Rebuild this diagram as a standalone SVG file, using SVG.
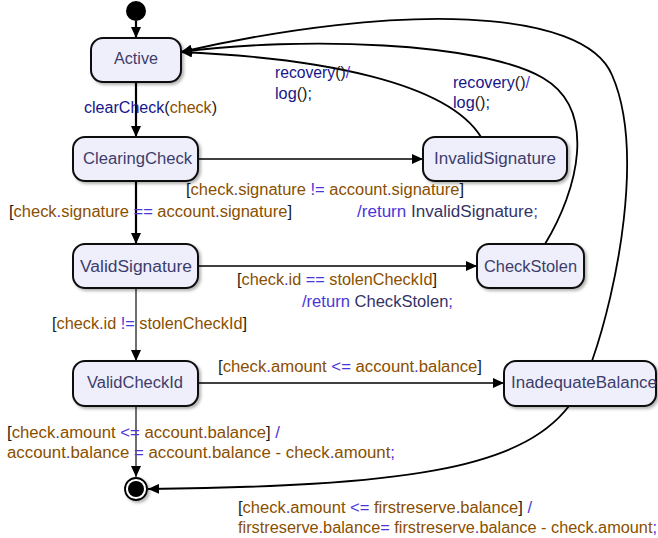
<svg xmlns="http://www.w3.org/2000/svg" width="658" height="538" viewBox="0 0 658 538">
<style>
text{font-family:"Liberation Sans",Arial,sans-serif;}
.node rect{fill:#efeffc;stroke:#111;stroke-width:2;}
.nl{font-size:16px;fill:#3d3d6b;text-anchor:middle;}
.lb{font-size:16px;}
.b{fill:#8a4f00;}
.o{fill:#4a36d8;}
.k{fill:#1a1a1a;}
.n{fill:#16168a;}
.d{fill:#333366;}
.e{fill:none;stroke:#000;}
.thin{stroke-width:1.3;}
.thick{stroke-width:2.2;}
.gray{stroke:#6e6e6e;stroke-width:2;}
.cur{stroke-width:1.8;}
</style>
<defs>
<marker id="arr" markerUnits="userSpaceOnUse" markerWidth="12" markerHeight="10" refX="11" refY="5" orient="auto">
<path d="M0,0 L11,5 L0,10 z" fill="#000"/>
</marker>
<filter id="sh" x="-10%" y="-20%" width="130%" height="150%">
<feDropShadow dx="2" dy="2" stdDeviation="1.5" flood-color="#000" flood-opacity="0.3"/>
</filter>
</defs>

<g id="connectors">
<line class="e thick" x1="136" y1="21" x2="136" y2="38" marker-end="url(#arr)"/>
<line class="e thick" x1="136" y1="82" x2="136" y2="137" marker-end="url(#arr)"/>
<line class="e thin" x1="198" y1="159" x2="423" y2="159" marker-end="url(#arr)"/>
<line class="e thick" x1="136" y1="181" x2="136" y2="244" marker-end="url(#arr)"/>
<line class="e thin" x1="198" y1="266" x2="477" y2="266" marker-end="url(#arr)"/>
<line class="e gray" x1="136" y1="288" x2="136" y2="361" marker-end="url(#arr)"/>
<line class="e thin" x1="198" y1="383" x2="504" y2="383" marker-end="url(#arr)"/>
<line class="e gray" x1="136" y1="406" x2="136" y2="477" marker-end="url(#arr)"/>
<path class="e cur" d="M569,406 C520,470 400,486 148,489" marker-end="url(#arr)"/>
<path class="e cur" d="M481,137 C447,82 320,58 181,52" marker-end="url(#arr)"/>
<path class="e cur" d="M545,244 C578,190 598,110 543,78 C482,42 300,36 181,52" marker-end="url(#arr)"/>
<path class="e cur" d="M592,361 C617,290 645,150 612,75 C584,8 400,2 181,52" marker-end="url(#arr)"/>

<text class="lb" x="84" y="113" textLength="133" lengthAdjust="spacingAndGlyphs"><tspan class="n">clearCheck</tspan><tspan class="k">(</tspan><tspan class="b">check</tspan><tspan class="k">)</tspan></text>
<text class="lb" x="186" y="195" textLength="278" lengthAdjust="spacingAndGlyphs"><tspan class="k">[</tspan><tspan class="b">check</tspan><tspan class="o">.</tspan><tspan class="b">signature </tspan><tspan class="o">!= </tspan><tspan class="b">account</tspan><tspan class="o">.</tspan><tspan class="b">signature</tspan><tspan class="k">]</tspan></text>
<text class="lb" x="357" y="217" textLength="181" lengthAdjust="spacingAndGlyphs"><tspan class="o">/return </tspan><tspan class="d">InvalidSignature</tspan><tspan class="o">;</tspan></text>
<text class="lb" x="9" y="217" textLength="283" lengthAdjust="spacingAndGlyphs"><tspan class="k">[</tspan><tspan class="b">check</tspan><tspan class="o">.</tspan><tspan class="b">signature </tspan><tspan class="o">== </tspan><tspan class="b">account</tspan><tspan class="o">.</tspan><tspan class="b">signature</tspan><tspan class="k">]</tspan></text>
<text class="lb" x="237" y="285" textLength="200" lengthAdjust="spacingAndGlyphs"><tspan class="k">[</tspan><tspan class="b">check</tspan><tspan class="o">.</tspan><tspan class="b">id </tspan><tspan class="o">== </tspan><tspan class="b">stolenCheckId</tspan><tspan class="k">]</tspan></text>
<text class="lb" x="302" y="307" textLength="151" lengthAdjust="spacingAndGlyphs"><tspan class="o">/return </tspan><tspan class="d">CheckStolen</tspan><tspan class="o">;</tspan></text>
<text class="lb" x="52" y="329" textLength="195" lengthAdjust="spacingAndGlyphs"><tspan class="k">[</tspan><tspan class="b">check</tspan><tspan class="o">.</tspan><tspan class="b">id </tspan><tspan class="o">!= </tspan><tspan class="b">stolenCheckId</tspan><tspan class="k">]</tspan></text>
<text class="lb" x="218" y="372" textLength="264" lengthAdjust="spacingAndGlyphs"><tspan class="k">[</tspan><tspan class="b">check</tspan><tspan class="o">.</tspan><tspan class="b">amount </tspan><tspan class="o">&lt;= </tspan><tspan class="b">account</tspan><tspan class="o">.</tspan><tspan class="b">balance</tspan><tspan class="k">]</tspan></text>
<text class="lb" x="7" y="438" textLength="273" lengthAdjust="spacingAndGlyphs"><tspan class="k">[</tspan><tspan class="b">check</tspan><tspan class="o">.</tspan><tspan class="b">amount </tspan><tspan class="o">&lt;= </tspan><tspan class="b">account</tspan><tspan class="o">.</tspan><tspan class="b">balance</tspan><tspan class="k">] </tspan><tspan class="o">/</tspan></text>
<text class="lb" x="7" y="458" textLength="388" lengthAdjust="spacingAndGlyphs"><tspan class="b">account</tspan><tspan class="o">.</tspan><tspan class="b">balance </tspan><tspan class="o">= </tspan><tspan class="b">account</tspan><tspan class="o">.</tspan><tspan class="b">balance - check</tspan><tspan class="o">.</tspan><tspan class="b">amount</tspan><tspan class="o">;</tspan></text>
<text class="lb" x="238" y="513" textLength="294" lengthAdjust="spacingAndGlyphs"><tspan class="k">[</tspan><tspan class="b">check</tspan><tspan class="o">.</tspan><tspan class="b">amount </tspan><tspan class="o">&lt;= </tspan><tspan class="b">firstreserve</tspan><tspan class="o">.</tspan><tspan class="b">balance</tspan><tspan class="k">] </tspan><tspan class="o">/</tspan></text>
<text class="lb" x="238" y="533" textLength="419" lengthAdjust="spacingAndGlyphs"><tspan class="b">firstreserve</tspan><tspan class="o">.</tspan><tspan class="b">balance</tspan><tspan class="o">= </tspan><tspan class="b">firstreserve</tspan><tspan class="o">.</tspan><tspan class="b">balance - check</tspan><tspan class="o">.</tspan><tspan class="b">amount</tspan><tspan class="o">;</tspan></text>
<text class="lb" x="275" y="78" textLength="75" lengthAdjust="spacingAndGlyphs"><tspan class="n">recovery</tspan><tspan class="k">()</tspan><tspan class="o">/</tspan></text>
<text class="lb" x="275" y="99" textLength="37" lengthAdjust="spacingAndGlyphs"><tspan class="n">log</tspan><tspan class="k">()</tspan><tspan class="n">;</tspan></text>
<text class="lb" x="453" y="88" textLength="77" lengthAdjust="spacingAndGlyphs"><tspan class="n">recovery</tspan><tspan class="k">()</tspan><tspan class="o">/</tspan></text>
<text class="lb" x="453" y="108" textLength="37" lengthAdjust="spacingAndGlyphs"><tspan class="n">log</tspan><tspan class="k">()</tspan><tspan class="n">;</tspan></text>
</g>

<g id="initial"><circle cx="136" cy="11" r="10" fill="#000"/></g>
<g id="final"><circle cx="136" cy="489" r="11" fill="#fff" stroke="#000" stroke-width="1.8" filter="url(#sh)"/><circle cx="136" cy="489" r="8" fill="#000"/></g>

<g id="Active" class="node"><rect x="91" y="38" width="90" height="44" rx="12" filter="url(#sh)"/><text class="nl" x="136" y="64" textLength="44" lengthAdjust="spacingAndGlyphs">Active</text></g>
<g id="ClearingCheck" class="node"><rect x="73" y="137" width="125" height="44" rx="12" filter="url(#sh)"/><text class="nl" x="137.5" y="164" textLength="109" lengthAdjust="spacingAndGlyphs">ClearingCheck</text></g>
<g id="InvalidSignature" class="node"><rect x="423" y="137" width="144" height="44" rx="12" filter="url(#sh)"/><text class="nl" x="495" y="164" textLength="122" lengthAdjust="spacingAndGlyphs">InvalidSignature</text></g>
<g id="ValidSignature" class="node"><rect x="73" y="244" width="125" height="44" rx="12" filter="url(#sh)"/><text class="nl" x="136" y="272" textLength="112" lengthAdjust="spacingAndGlyphs">ValidSignature</text></g>
<g id="CheckStolen" class="node"><rect x="477" y="244" width="107" height="44" rx="12" filter="url(#sh)"/><text class="nl" x="530.5" y="272" textLength="93" lengthAdjust="spacingAndGlyphs">CheckStolen</text></g>
<g id="ValidCheckId" class="node"><rect x="73" y="361" width="125" height="45" rx="12" filter="url(#sh)"/><text class="nl" x="135" y="388" textLength="96" lengthAdjust="spacingAndGlyphs">ValidCheckId</text></g>
<g id="InadequateBalance" class="node"><rect x="504" y="361" width="152" height="45" rx="12" filter="url(#sh)"/><text class="nl" x="584" y="388" textLength="146" lengthAdjust="spacingAndGlyphs">InadequateBalance</text></g>
</svg>
